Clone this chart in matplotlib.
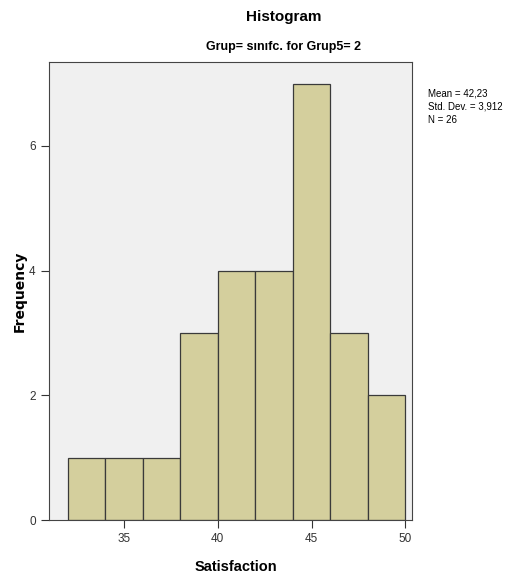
import matplotlib
matplotlib.use("Agg")
import matplotlib.pyplot as plt
import numpy as np

# bin edges and counts
bin_edges = [32, 34, 36, 38, 40, 42, 44, 46, 48, 50]
counts = [1, 1, 1, 3, 4, 4, 7, 3, 2]
x_ticks = [35, 40, 45, 50]
y_ticks = [0, 2, 4, 6]
stats_text = "Mean = 42,23\nStd. Dev. = 3,912\nN = 26"

narrow = ["Liberation Sans Narrow", "Liberation Sans", "DejaVu Sans"]

fig = plt.figure(figsize=(5.13, 5.8), dpi=100)
ax = fig.add_axes([0.0955, 0.1034, 0.708, 0.79])
ax.set_facecolor("#f0f0f0")

centers = [(a + b) / 2 for a, b in zip(bin_edges[:-1], bin_edges[1:])]
widths = np.diff(bin_edges)
ax.bar(centers, counts, width=widths, color="#d4cf9d", edgecolor="#3a3a3a", linewidth=0.9)

ax.set_xlim(31.0, 50.37)
ax.set_ylim(0, 7.35)
ax.set_xticks(x_ticks)
ax.set_yticks(y_ticks)
ax.tick_params(labelsize=8.5, length=6, width=0.8, colors="#333333")
for lab in ax.get_xticklabels() + ax.get_yticklabels():
    lab.set_family(narrow)
for s in ax.spines.values():
    s.set_color("#444444")
    s.set_linewidth(0.8)

ax.set_xlabel("Satisfaction", fontsize=10.5, fontweight="bold", family=narrow)
ax.set_ylabel("Frequency", fontsize=10, fontweight="bold")
ax.xaxis.set_label_coords(0.515, -0.087)
ax.yaxis.set_label_coords(-0.062, 0.5)

fig.text(0.553, 0.97, "Histogram", ha="center", va="center", fontsize=11, fontweight="bold", family=narrow)
fig.text(0.553, 0.919, "Grup= sınıfc. for Grup5= 2", ha="center", va="center", fontsize=9, fontweight="bold", family=narrow)
fig.text(0.834, 0.848, stats_text, ha="left", va="top", fontsize=7, family=narrow, linespacing=1.45)

fig.savefig("out.png", dpi=100)
